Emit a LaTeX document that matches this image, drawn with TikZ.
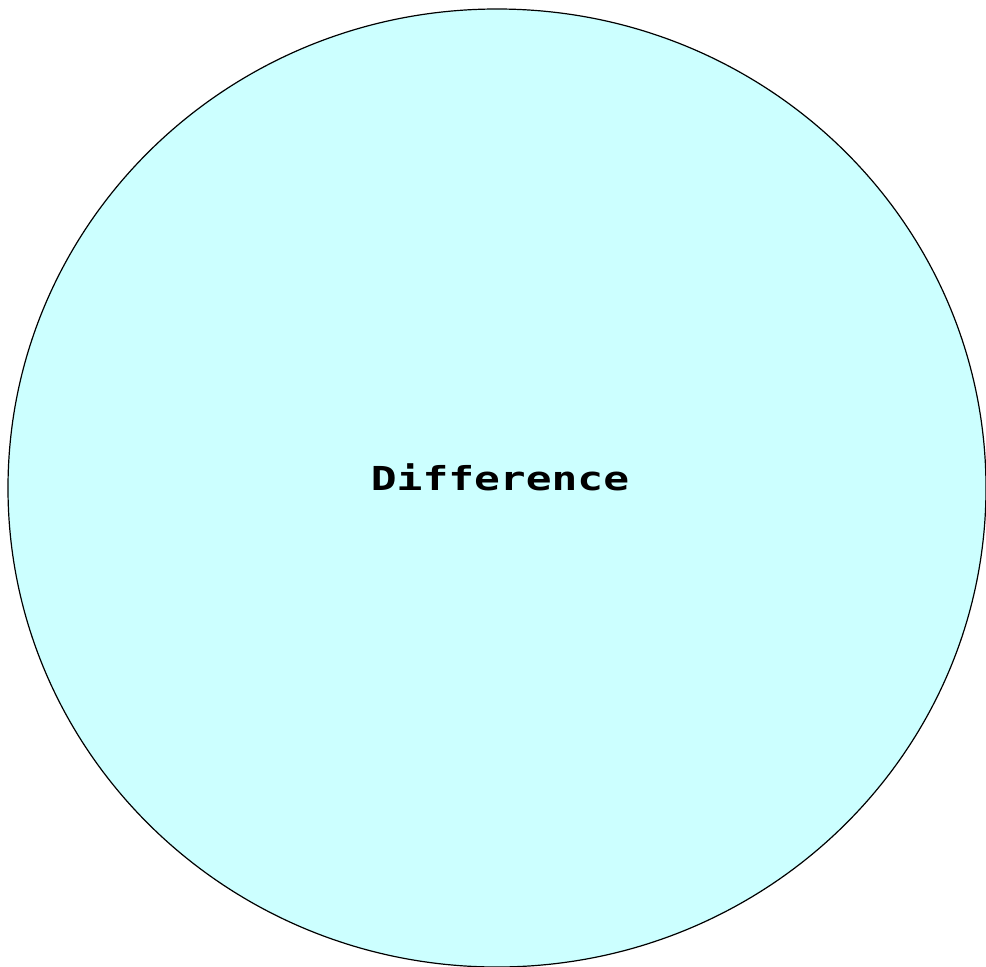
\documentclass[tikz,border=0pt]{standalone}
\usepackage{fontspec}
\newfontfamily\setfont[FakeStretch=1.3]{DejaVu Sans Mono}
\usetikzlibrary{shapes.geometric}
\definecolor{cset}{HTML}{CCFFFF}
\tikzset{
  every picture/.style={line width=1.2pt},
  setshape/.style={ellipse, draw=black, fill=cset, inner sep=0pt, minimum width=978pt, minimum height=958pt},
  settitle/.style={font=\setfont\bfseries\fontsize{33}{40}\selectfont, inner sep=0pt},
}

\begin{document}
\begin{tikzpicture}[x=1pt, y=-1pt]
  \useasboundingbox (0,0) rectangle (986,967);
  \clip (0,0) rectangle (986,967);
  \node[setshape] (diff) at (497,488) {};
  \node[settitle, anchor=base] (difftext) at (500,490) {Difference};
\end{tikzpicture}
\end{document}
